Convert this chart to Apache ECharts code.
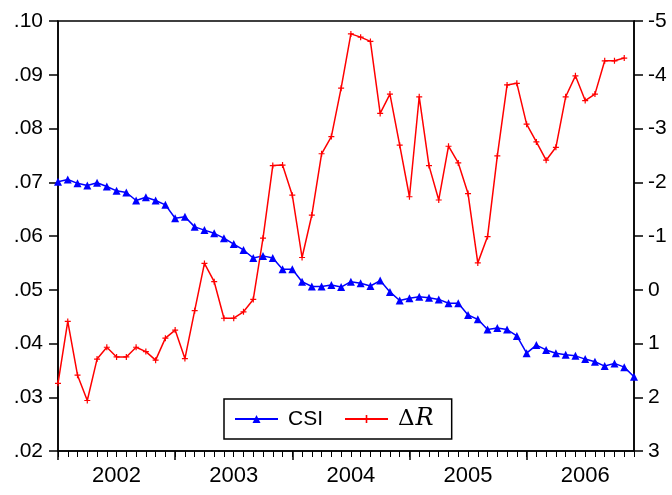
<!DOCTYPE html>
<html>
<head>
<meta charset="utf-8">
<title>CSI and ΔR</title>
<script src="https://cdn.jsdelivr.net/npm/echarts@6/dist/echarts.min.js"></script>
<style>
  html, body { margin: 0; padding: 0; background: #fff; }
  #chart { width: 672px; height: 495px; }
</style>
</head>
<body>
<div id="chart"></div>
<script>
// monthly observations 2002M01 - 2006M12
const years = ['2002', '2003', '2004', '2005', '2006']
const monthNums = ['01', '02', '03', '04', '05', '06', '07', '08', '09', '10', '11', '12']

const csi = [
  0.0701, 0.0705, 0.0698, 0.0694, 0.0699, 0.0692, 0.0684, 0.0681, 0.0666, 0.0672, 0.0666, 0.0658,
  0.0633, 0.0636, 0.0617, 0.0611, 0.0605, 0.0596, 0.0585, 0.0574, 0.0559, 0.0563, 0.0559, 0.0538,
  0.0538, 0.0515, 0.0506, 0.0506, 0.0509, 0.0505, 0.0515, 0.0512, 0.0507, 0.0517, 0.0496, 0.0480,
  0.0484, 0.0487, 0.0485, 0.0482, 0.0475, 0.0475, 0.0453, 0.0445, 0.0426, 0.0429, 0.0426, 0.0414,
  0.0382, 0.0397, 0.0388, 0.0382, 0.0379, 0.0377, 0.0371, 0.0366, 0.0358, 0.0363, 0.0356, 0.0338
]

// ΔR, plotted on the inverted right axis
const deltaR = [
  1.74, 0.59, 1.59, 2.06, 1.29, 1.07, 1.25, 1.25, 1.07, 1.15, 1.31, 0.90,
  0.75, 1.28, 0.39, -0.49, -0.15, 0.53, 0.53, 0.41, 0.18, -0.96, -2.31, -2.32,
  -1.76, -0.60, -1.39, -2.53, -2.85, -3.75, -4.76, -4.70, -4.62, -3.28, -3.64, -2.69,
  -1.73, -3.59, -2.31, -1.67, -2.67, -2.36, -1.79, -0.50, -0.99, -2.49, -3.81, -3.84,
  -3.08, -2.75, -2.41, -2.65, -3.59, -3.98, -3.52, -3.64, -4.26, -4.26, -4.31, null
]

const months = []
years.forEach(y => monthNums.forEach(m => months.push(y + '-' + m)))

const font = '"Liberation Sans", Arial, sans-serif'
const plusSymbol = 'path://M2,0H3V2H5V3H3V5H2V3H0V2H2Z'

const chart = echarts.init(document.getElementById('chart'))

chart.setOption({
  animation: false,
  backgroundColor: '#fff',
  grid: {
    left: 58,
    right: 38,
    top: 21,
    bottom: 44,
    show: true,
    borderColor: '#000',
    borderWidth: 1.5
  },
  legend: {
    left: 224,
    top: 399,
    orient: 'horizontal',
    borderColor: '#000',
    borderWidth: 1.5,
    borderRadius: 0,
    padding: [8, 18, 8, 10],
    itemWidth: 43,
    itemHeight: 10,
    itemGap: 21,
    data: ['CSI', 'ΔR'],
    formatter: name => name === 'ΔR' ? '{d|Δ}{r|R}' : name,
    textStyle: {
      fontFamily: font,
      fontSize: 21,
      color: '#000',
      padding: [0, 0, 0, 5],
      rich: {
        d: { fontFamily: '"DejaVu Serif", serif', fontSize: 23, color: '#000', padding: [0, 1, 0, 0] },
        r: { fontFamily: '"DejaVu Serif", serif', fontStyle: 'italic', fontSize: 24, color: '#000' }
      }
    }
  },
  xAxis: [
    {
      type: 'category',
      data: months,
      boundaryGap: false,
      position: 'bottom',
      axisLine: { onZero: false, lineStyle: { color: '#000', width: 1.5 } },
      axisTick: { interval: 0, length: 6, lineStyle: { color: '#000', width: 1 } },
      axisLabel: {
        interval: idx => idx % 12 === 6,
        formatter: v => v.slice(0, 4),
        margin: 14,
        fontFamily: font,
        fontSize: 22,
        color: '#000'
      },
      splitLine: { show: false }
    },
    {
      type: 'category',
      data: months,
      boundaryGap: false,
      position: 'bottom',
      axisLine: { show: false, onZero: false },
      axisTick: { interval: idx => idx % 12 === 0, length: 9, lineStyle: { color: '#000', width: 1.5 } },
      axisLabel: { show: false },
      splitLine: { show: false }
    }
  ],
  yAxis: [
    {
      type: 'value',
      position: 'left',
      min: 0.02,
      max: 0.10,
      interval: 0.01,
      axisLine: { show: true, onZero: false, lineStyle: { color: '#000', width: 1.5 } },
      axisTick: { show: true, length: 9, lineStyle: { color: '#000', width: 1.5 } },
      axisLabel: {
        margin: 15,
        formatter: v => v.toFixed(2).replace(/^0/, ''),
        fontFamily: font,
        fontSize: 21,
        color: '#000'
      },
      splitLine: { show: false }
    },
    {
      type: 'value',
      position: 'right',
      inverse: true,
      min: -5,
      max: 3,
      interval: 1,
      axisLine: { show: true, onZero: false, lineStyle: { color: '#000', width: 1.5 } },
      axisTick: { show: true, length: 9, lineStyle: { color: '#000', width: 1.5 } },
      axisLabel: {
        margin: 14,
        formatter: v => String(v),
        fontFamily: font,
        fontSize: 21,
        color: '#000'
      },
      splitLine: { show: false }
    }
  ],
  series: [
    {
      name: 'CSI',
      type: 'line',
      xAxisIndex: 0,
      yAxisIndex: 0,
      data: csi,
      symbol: 'triangle',
      symbolSize: 8,
      showAllSymbol: true,
      itemStyle: { color: '#0000ff' },
      lineStyle: { color: '#0000ff', width: 1.5 }
    },
    {
      name: 'ΔR',
      type: 'line',
      xAxisIndex: 0,
      yAxisIndex: 1,
      data: deltaR,
      symbol: plusSymbol,
      symbolSize: 6,
      showAllSymbol: true,
      itemStyle: { color: '#ff0000' },
      lineStyle: { color: '#ff0000', width: 1.5 }
    }
  ]
})
</script>
</body>
</html>
